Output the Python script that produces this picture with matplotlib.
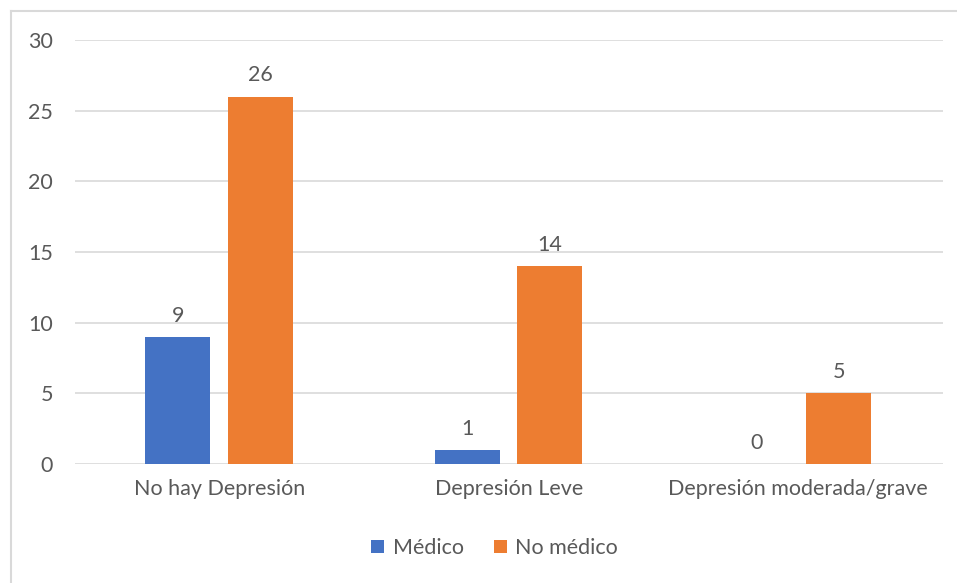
import numpy as np
import matplotlib
matplotlib.use('Agg')
from matplotlib import pyplot as plt
from matplotlib.lines import Line2D

# Data
categories = ['No hay Depresión', 'Depresión Leve', 'Depresión moderada/grave']
medico = [9, 1, 0]
no_medico = [26, 14, 5]
series_names = ['Médico', 'No médico']

plt.rcParams['font.family'] = ['Lato', 'DejaVu Sans']
grey = '#595959'
fsize = 15.5

fig = plt.figure(figsize=(9.57, 5.83), dpi=100)
ax = fig.add_axes([0.0784, 0.2041, 0.907, 0.7273])

x = np.arange(len(categories))
width = 0.225
b1 = ax.bar(x - 0.145, medico, width, color='#4472C4', label=series_names[0], zorder=3)
b2 = ax.bar(x + 0.14, no_medico, width, color='#ED7D31', label=series_names[1], zorder=3)

# value labels above the bars
for bars in (b1, b2):
    for rect in bars:
        h = rect.get_height()
        ax.annotate('%d' % h, (rect.get_x() + rect.get_width() / 2, h),
                    xytext=(0, 8), textcoords='offset points',
                    ha='center', va='bottom', fontsize=fsize, color=grey)

ax.set_xlim(-0.5, 2.5)
ax.set_ylim(0, 30)
ax.set_yticks(np.arange(0, 31, 5))
ax.yaxis.grid(True, color='#D9D9D9', linewidth=1.2, zorder=0)
for s in ax.spines.values():
    s.set_visible(False)
ax.tick_params(axis='both', length=0, labelsize=fsize, labelcolor=grey)
ax.tick_params(axis='y', pad=16)
ax.tick_params(axis='x', pad=11)
ax.set_xticks(x)
ax.set_xticklabels(categories)

fig.legend(loc='center', bbox_to_anchor=(0.517, 0.06), ncol=2, frameon=False,
           fontsize=fsize, labelcolor=grey, handlelength=0.6, handleheight=0.6,
           handletextpad=0.4, columnspacing=1.4)

# chart border, only the left and top edges show in the crop
bx = 10.5 / 957
by = 1 - 10.5 / 583
fig.lines.append(Line2D([bx, bx], [0, by], transform=fig.transFigure,
                        color='#D9D9D9', linewidth=1.5))
fig.lines.append(Line2D([bx, 1], [by, by], transform=fig.transFigure,
                        color='#D9D9D9', linewidth=1.5))

fig.savefig('out.png', dpi=100)
